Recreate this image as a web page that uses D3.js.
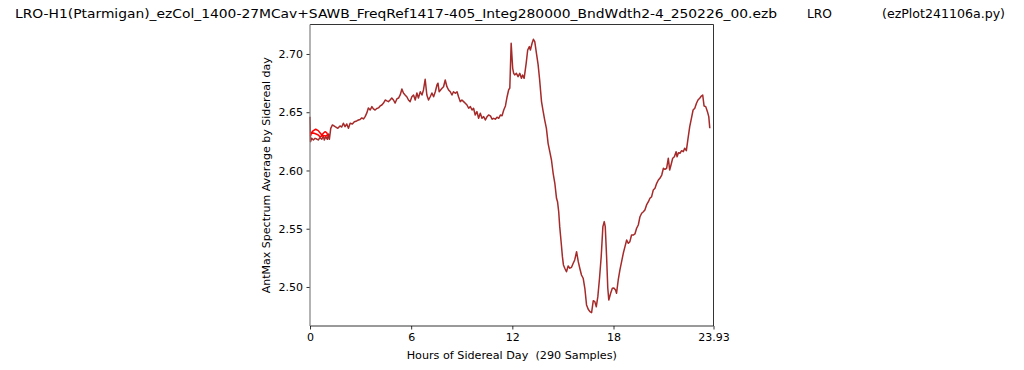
<!DOCTYPE html>
<html><head><meta charset="utf-8">
<script src="https://cdn.jsdelivr.net/npm/d3@7"></script>
<style>
html,body{margin:0;padding:0;background:#fff;}
svg{display:block;font-family:"DejaVu Sans",sans-serif;}
</style></head>
<body><svg id="chart" width="1024" height="370"></svg>
<script>
const hours = [0.00,0.03,0.10,0.20,0.30,0.40,0.49,0.59,0.70,0.79,0.85,0.93,1.03,1.09,1.15,1.23,1.33,1.49,1.65,1.78,1.88,1.98,2.08,2.18,2.28,2.38,2.51,2.63,2.77,2.87,2.97,3.07,3.17,3.27,3.37,3.46,3.57,3.67,3.76,3.86,3.96,4.06,4.16,4.26,4.36,4.46,4.56,4.65,4.75,4.85,4.95,5.05,5.15,5.25,5.35,5.45,5.54,5.64,5.75,5.84,5.94,6.04,6.14,6.24,6.34,6.43,6.54,6.64,6.73,6.83,6.93,7.03,7.13,7.23,7.33,7.43,7.53,7.59,7.66,7.83,7.92,8.02,8.12,8.22,8.32,8.42,8.51,8.62,8.72,8.81,8.91,9.01,9.11,9.21,9.31,9.41,9.51,9.61,9.70,9.80,9.90,10.00,10.10,10.20,10.30,10.40,10.50,10.59,10.70,10.80,10.89,10.99,11.09,11.19,11.29,11.39,11.49,11.59,11.69,11.78,11.85,11.93,12.02,12.08,12.14,12.24,12.34,12.44,12.54,12.61,12.70,12.82,12.91,13.01,13.07,13.17,13.25,13.33,13.43,13.53,13.62,13.73,13.83,13.92,14.02,14.12,14.22,14.32,14.42,14.52,14.62,14.68,14.75,14.81,14.90,14.97,15.03,15.11,15.21,15.31,15.41,15.51,15.61,15.70,15.81,15.91,16.00,16.10,16.20,16.30,16.40,16.50,16.60,16.70,16.80,16.89,16.98,17.07,17.17,17.27,17.37,17.45,17.51,17.59,17.66,17.72,17.83,17.93,18.02,18.12,18.18,18.28,18.38,18.48,18.58,18.68,18.78,18.88,18.97,19.07,19.17,19.27,19.37,19.47,19.57,19.67,19.77,19.86,19.96,20.07,20.16,20.26,20.36,20.46,20.56,20.66,20.75,20.86,20.96,21.05,21.15,21.25,21.33,21.41,21.51,21.61,21.71,21.77,21.85,21.94,22.04,22.14,22.22,22.32,22.42,22.52,22.62,22.72,22.82,22.92,23.01,23.11,23.21,23.29,23.37,23.47,23.57,23.65,23.71];
const antMax = [2.6462,2.6247,2.6276,2.6262,2.6276,2.6270,2.6262,2.6282,2.6268,2.6296,2.6262,2.6290,2.6268,2.6313,2.6268,2.6362,2.6391,2.6376,2.6362,2.6382,2.6373,2.6405,2.6376,2.6399,2.6362,2.6405,2.6399,2.6419,2.6425,2.6433,2.6438,2.6451,2.6442,2.6462,2.6494,2.6537,2.6519,2.6548,2.6528,2.6519,2.6532,2.6537,2.6554,2.6562,2.6579,2.6605,2.6597,2.6591,2.6605,2.6622,2.6605,2.6579,2.6614,2.6622,2.6648,2.6700,2.6665,2.6648,2.6631,2.6605,2.6591,2.6633,2.6648,2.6605,2.6665,2.6622,2.6676,2.6648,2.6691,2.6783,2.6648,2.6605,2.6633,2.6665,2.6633,2.6676,2.6734,2.6749,2.6676,2.6706,2.6719,2.6777,2.6719,2.6691,2.6676,2.6648,2.6676,2.6663,2.6676,2.6633,2.6591,2.6605,2.6591,2.6577,2.6562,2.6534,2.6548,2.6519,2.6534,2.6476,2.6505,2.6448,2.6491,2.6448,2.6462,2.6433,2.6462,2.6476,2.6468,2.6440,2.6448,2.6440,2.6457,2.6448,2.6476,2.6470,2.6519,2.6554,2.6633,2.6691,2.6708,2.7092,2.6877,2.6834,2.6820,2.6834,2.6805,2.6834,2.6791,2.6820,2.6791,2.6920,2.7034,2.7063,2.7034,2.7092,2.7126,2.7106,2.7006,2.6906,2.6777,2.6591,2.6505,2.6433,2.6362,2.6233,2.6161,2.6090,2.5976,2.5890,2.5761,2.5732,2.5646,2.5518,2.5375,2.5260,2.5189,2.5161,2.5131,2.5180,2.5161,2.5169,2.5203,2.5232,2.5303,2.5217,2.5161,2.5103,2.5075,2.4989,2.4846,2.4809,2.4788,2.4779,2.4882,2.4874,2.4831,2.4917,2.5075,2.5260,2.5518,2.5561,2.5518,2.5260,2.4991,2.4888,2.4946,2.4989,2.4991,2.4974,2.4946,2.5060,2.5146,2.5217,2.5289,2.5346,2.5403,2.5375,2.5389,2.5446,2.5446,2.5455,2.5504,2.5532,2.5603,2.5633,2.5646,2.5661,2.5704,2.5732,2.5761,2.5775,2.5833,2.5847,2.5890,2.5918,2.5933,2.5961,2.6019,2.6010,2.6019,2.6105,2.6004,2.6047,2.6105,2.6118,2.6161,2.6118,2.6153,2.6148,2.6170,2.6161,2.6191,2.6170,2.6276,2.6376,2.6448,2.6519,2.6534,2.6577,2.6605,2.6620,2.6639,2.6648,2.6554,2.6548,2.6505,2.6462,2.6362];
const wrapHours = [0.03,0.09,0.20,0.34,0.49,0.59,0.70,0.79,0.89,0.99,1.05,0.95,0.77,0.59,0.49,0.36,0.21,0.09];
const wrapAntMax = [2.6296,2.6326,2.6342,2.6354,2.6342,2.6324,2.6305,2.6319,2.6333,2.6324,2.6305,2.6296,2.6300,2.6290,2.6305,2.6313,2.6322,2.6318];
const xTicks = [0, 6, 12, 18, 23.93];
const xTickLabels = ["0", "6", "12", "18", "23.93"];
const yTicks = [2.50, 2.55, 2.60, 2.65, 2.70];
const titleMain = "LRO-H1(Ptarmigan)_ezCol_1400-27MCav+SAWB_FreqRef1417-405_Integ280000_BndWdth2-4_250226_00.ezb";
const titleSite = "LRO";
const titleProg = "(ezPlot241106a.py)";
const xLabel = "Hours of Sidereal Day  (290 Samples)";
const yLabel = "AntMax Spectrum Average by Sidereal day";

const svg = d3.select("#chart");
const L = 310, R = 713.5, T = 24.5, B = 326;
const x = d3.scaleLinear().domain([0, 23.93]).range([L, R]);
const y = d3.scaleLinear().domain([2.4665, 2.7253]).range([B, T]);

const main = hours.map((h, i) => [h, antMax[i]]);
const wrap = wrapHours.map((h, i) => [h, wrapAntMax[i]]);
const line = d3.line().x(d => x(d[0])).y(d => y(d[1]));

svg.append("path").datum(main).attr("d", line)
  .attr("fill", "none").attr("stroke", "#a52a2a").attr("stroke-width", 1.5)
  .attr("stroke-linejoin", "round");
svg.append("path").datum(wrap).attr("d", line)
  .attr("fill", "none").attr("stroke", "#ff0000").attr("stroke-width", 1.5)
  .attr("stroke-linejoin", "round");

// axes
const xAxis = d3.axisBottom(x).tickValues(xTicks).tickFormat((d, i) => xTickLabels[i]).tickSize(3.5).tickPadding(3.5);
const gx = svg.append("g").attr("transform", `translate(0,${B})`).call(xAxis);
const yAxis = d3.axisLeft(y).tickValues(yTicks).tickFormat(d3.format(".2f")).tickSize(3.5).tickPadding(3.5);
const gy = svg.append("g").attr("transform", `translate(${L},0)`).call(yAxis);
[gx, gy].forEach(g => {
  g.select(".domain").remove();
  g.selectAll(".tick line").attr("stroke", "#000").attr("stroke-width", 0.8);
  g.selectAll(".tick text").attr("fill", "#000").style("font-size", "11px").style("font-family", "DejaVu Sans");
});

// frame
svg.append("line").attr("x1", L).attr("x2", R).attr("y1", T).attr("y2", T).attr("stroke", "#000").attr("stroke-width", 0.8);
svg.append("line").attr("x1", L).attr("x2", R).attr("y1", B).attr("y2", B).attr("stroke", "#000").attr("stroke-width", 0.8);
svg.append("line").attr("x1", R).attr("x2", R).attr("y1", T).attr("y2", B).attr("stroke", "#000").attr("stroke-width", 0.8);
svg.append("line").attr("x1", L).attr("x2", L).attr("y1", T).attr("y2", B).attr("stroke", "#808080").attr("stroke-width", 1.2);

// labels
svg.append("text").attr("x", (L + R) / 2).attr("y", 359).attr("text-anchor", "middle")
  .style("font-size", "11.2px").attr("xml:space", "preserve").style("white-space", "pre").text(xLabel);
svg.append("text").attr("transform", `translate(270,${(T + B) / 2}) rotate(-90)`).attr("text-anchor", "middle")
  .style("font-size", "11px").text(yLabel);

// title
svg.append("text").attr("x", 15).attr("y", 17.5).style("font-size", "13px")
  .attr("textLength", 762).attr("lengthAdjust", "spacingAndGlyphs").text(titleMain);
svg.append("text").attr("x", 807).attr("y", 17.5).style("font-size", "13px")
  .attr("textLength", 25).attr("lengthAdjust", "spacingAndGlyphs").text(titleSite);
svg.append("text").attr("x", 882).attr("y", 17.5).style("font-size", "13px")
  .attr("textLength", 123).attr("lengthAdjust", "spacingAndGlyphs").text(titleProg);
</script></body></html>
